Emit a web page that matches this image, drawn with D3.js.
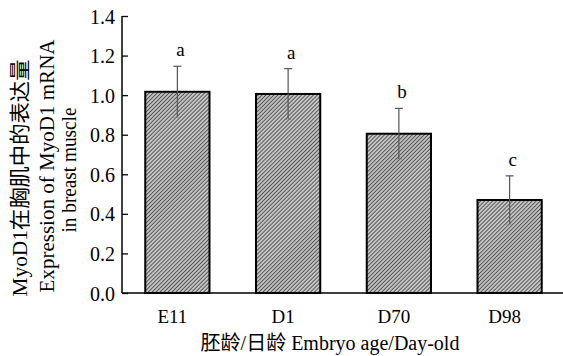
<!DOCTYPE html>
<html lang="en">
<head>
<meta charset="UTF-8">
<title>MyoD1 expression</title>
<style>
  body { margin: 0; background: #fff; }
  svg text { font-family: "Liberation Serif", "Noto Sans CJK SC", serif; fill: #000; }
</style>
</head>
<body>
<div id="chart"></div>
<script src="https://d3js.org/d3.v7.min.js"></script>
<script>
// data
var groups = ["E11", "D1", "D70", "D98"];
var means = [1.017, 1.006, 0.805, 0.470];
var errors = [0.129, 0.128, 0.128, 0.122];
var letters = ["a", "a", "b", "c"];
var yTicks = [0.0, 0.2, 0.4, 0.6, 0.8, 1.0, 1.2, 1.4];

var W = 563, H = 356;
var plotLeft = 122, plotRight = 565, plotTop = 16, plotBottom = 293;

var svg = d3.select("#chart").append("svg")
    .attr("width", W).attr("height", H);

// hatch fill
var defs = svg.append("defs");
var pat = defs.append("pattern")
    .attr("id", "hatch")
    .attr("patternUnits", "userSpaceOnUse")
    .attr("width", 2.8).attr("height", 2.8)
    .attr("patternTransform", "rotate(45)");
pat.append("rect").attr("width", 2.8).attr("height", 2.8).attr("fill", "#c4c4c4");
pat.append("line").attr("x1", 0).attr("y1", 0).attr("x2", 0).attr("y2", 2.8)
    .attr("stroke", "#2a2a2a").attr("stroke-width", 1.4);

var x = d3.scaleBand()
    .domain(groups)
    .range([plotLeft, plotRight])
    .paddingInner(0.42)
    .paddingOuter(0.21);

var y = d3.scaleLinear()
    .domain([0, 1.4])
    .range([plotBottom, plotTop]);

// y axis, ticks pointing inward
var yAxis = svg.append("g")
    .attr("transform", "translate(" + plotLeft + ",0)")
    .call(d3.axisRight(y).tickValues(yTicks).tickFormat(d3.format(".1f")).tickSize(6));
yAxis.select(".domain").remove();
yAxis.selectAll("text")
    .attr("x", -7).attr("text-anchor", "end").attr("dy", "0.35em")
    .style("font-size", "20px");
yAxis.selectAll("line").attr("stroke", "#000").attr("stroke-width", 1.3);

svg.append("line")
    .attr("x1", plotLeft).attr("x2", plotLeft)
    .attr("y1", y(1.4)).attr("y2", plotBottom)
    .attr("stroke", "#000").attr("stroke-width", 1.5);

// bars
svg.selectAll("rect.bar")
    .data(groups)
    .enter().append("rect")
    .attr("class", "bar")
    .attr("x", function (d) { return x(d); })
    .attr("y", function (d, i) { return y(means[i]); })
    .attr("width", x.bandwidth())
    .attr("height", function (d, i) { return plotBottom - y(means[i]); })
    .attr("fill", "url(#hatch)")
    .attr("stroke", "#000")
    .attr("stroke-width", 2);

// error bars
groups.forEach(function (g, i) {
    var cx = x(g) + x.bandwidth() / 2;
    var hi = y(means[i] + errors[i]), lo = y(means[i] - errors[i]);
    svg.append("line").attr("x1", cx).attr("x2", cx).attr("y1", hi).attr("y2", lo)
        .attr("stroke", "#555").attr("stroke-width", 1.2);
    svg.append("line").attr("x1", cx - 4).attr("x2", cx + 4).attr("y1", hi).attr("y2", hi)
        .attr("stroke", "#555").attr("stroke-width", 1.2);
    svg.append("line").attr("x1", cx - 4).attr("x2", cx + 4).attr("y1", lo).attr("y2", lo)
        .attr("stroke", "#777").attr("stroke-width", 1).attr("stroke-dasharray", "1,1");
    svg.append("text")
        .attr("x", cx + 3).attr("y", hi - 10)
        .attr("text-anchor", "middle")
        .style("font-size", "19px")
        .text(letters[i]);
});

// x axis line
svg.append("line")
    .attr("x1", plotLeft).attr("x2", W)
    .attr("y1", plotBottom).attr("y2", plotBottom)
    .attr("stroke", "#000").attr("stroke-width", 1.5);

// x tick labels
var xAxis = svg.append("g")
    .attr("transform", "translate(-5," + plotBottom + ")")
    .call(d3.axisBottom(x).tickSize(0));
xAxis.select(".domain").remove();
xAxis.selectAll("text")
    .attr("y", 0).attr("dy", 30)
    .style("font-size", "19px");

// axis titles
svg.append("text")
    .attr("x", 330).attr("y", 350)
    .attr("text-anchor", "middle")
    .style("font-size", "20px")
    .text("胚龄/日龄 Embryo age/Day-old");

var yTitles = [
    { t: "MyoD1在胸肌中的表达量", x: 27, c: 178, len: 237 },
    { t: "Expression of MyoD1 mRNA", x: 54, c: 166, len: 253 },
    { t: "in breast muscle", x: 76, c: 170, len: 125 }
];
yTitles.forEach(function (d) {
    svg.append("text")
        .attr("transform", "translate(" + d.x + "," + d.c + ") rotate(-90)")
        .attr("text-anchor", "middle")
        .attr("textLength", d.len)
        .attr("lengthAdjust", "spacingAndGlyphs")
        .style("font-size", "21px")
        .text(d.t);
});
</script>
</body>
</html>
